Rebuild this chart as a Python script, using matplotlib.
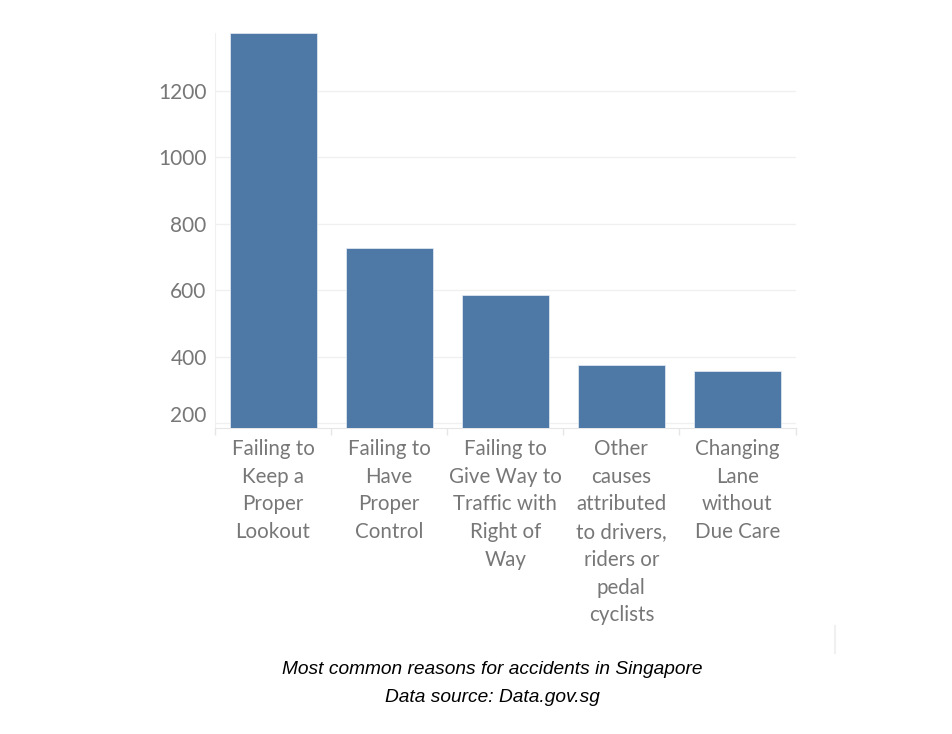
import numpy as np
import matplotlib.pyplot as plt
import matplotlib.transforms as mtransforms
from matplotlib.lines import Line2D

# Datos
categorias = ['Failing to\nKeep a\nProper\nLookout',
              'Failing to\nHave\nProper\nControl',
              'Failing to\nGive Way to\nTraffic with\nRight of\nWay',
              'Other\ncauses\nattributed\nto drivers,\nriders or\npedal\ncyclists',
              'Changing\nLane\nwithout\nDue Care']
accidentes = [1374, 728, 586, 376, 356]
y_ticks = [200, 400, 600, 800, 1000, 1200]

color_barra = '#4e79a7'
color_texto = '#777777'
color_grid = '#f0f0f0'

fig = plt.figure(figsize=(9.52, 7.34), dpi=100)
ax = fig.add_axes([215 / 952, 1 - 428 / 734, 580.5 / 952, 395 / 734])

x = np.arange(len(categorias))
ax.bar(x, accidentes, width=0.75, color=color_barra, zorder=3,
       edgecolor='#e8eef5', linewidth=0.5)

ax.set_xlim(-0.5, len(categorias) - 0.5)
ax.set_ylim(185, 1374)
ax.set_yticks(y_ticks)
ax.yaxis.grid(True, color=color_grid, linewidth=1, zorder=0)

ax.set_xticks(x)
ax.set_xticklabels(categorias, fontsize=14.8, color=color_texto,
                   family='Lato', linespacing=1.48)
ax.set_xticks(np.arange(-0.5, len(categorias)), minor=True)
ax.tick_params(axis='x', which='major', length=0, pad=8)
ax.tick_params(axis='x', which='minor', length=5, color='#e6e6e6', width=1)
ax.tick_params(axis='y', length=0, pad=6, labelsize=15, labelcolor=color_texto)
for lbl in ax.get_yticklabels():
    lbl.set_family('Lato')

# la etiqueta 200 aparece un poco más arriba en el original
lbl200 = ax.get_yticklabels()[0]
lbl200.set_transform(lbl200.get_transform() +
                     mtransforms.ScaledTranslation(0, 9 / 100, fig.dpi_scale_trans))

for lado in ['top', 'right']:
    ax.spines[lado].set_visible(False)
ax.spines['left'].set_color('#f0f0f0')
ax.spines['bottom'].set_color('#e6e6e6')

# Pie de figura
fig.text(492 / 952, 1 - 669 / 734, 'Most common reasons for accidents in Singapore',
         ha='center', va='center', fontsize=13.8, style='italic', family='Liberation Sans')
fig.text(492 / 952, 1 - 697 / 734, 'Data source: Data.gov.sg',
         ha='center', va='center', fontsize=13.8, style='italic', family='Liberation Sans')

# pequeña línea vertical suelta a la derecha
fig.add_artist(Line2D([835 / 952, 835 / 952], [1 - 626 / 734, 1 - 653 / 734],
                      color='#f0f0f0', linewidth=1.5))

fig.savefig('out.png', dpi=100)
